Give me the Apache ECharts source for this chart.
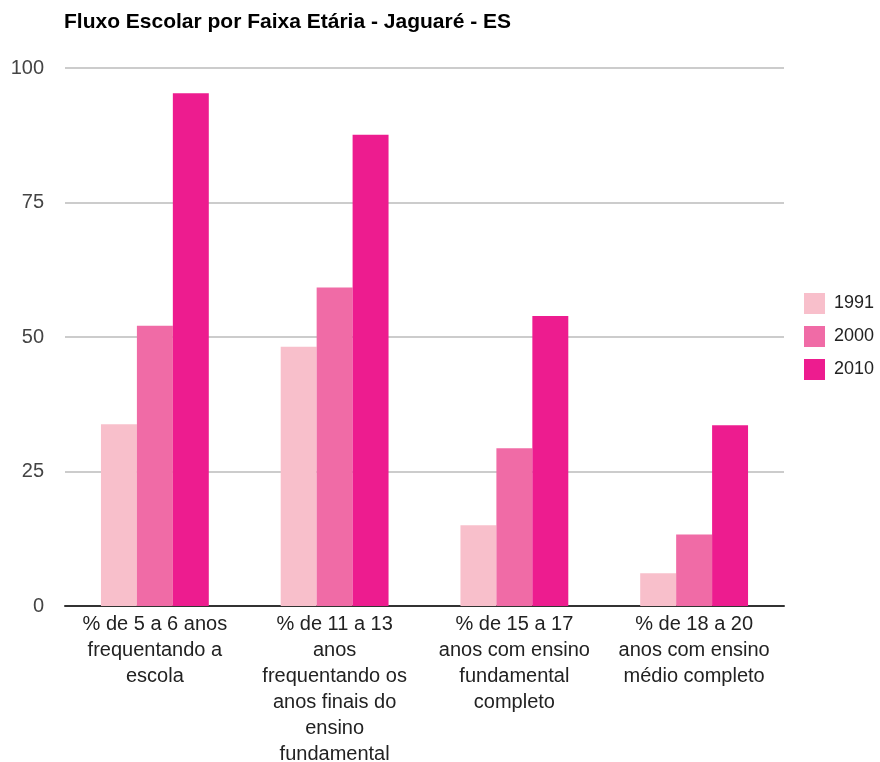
<!DOCTYPE html>
<html>
<head>
<meta charset="utf-8">
<script src="https://cdn.jsdelivr.net/npm/echarts@6/dist/echarts.min.js"></script>
<style>html,body{margin:0;padding:0;background:#fff;}#chart{width:880px;height:762px;}</style>
</head>
<body>
<div id="chart"></div>
<script>
var titleText = "Fluxo Escolar por Faixa Etária - Jaguaré - ES";
var categories = [
  "% de 5 a 6 anos\nfrequentando a\nescola",
  "% de 11 a 13\nanos\nfrequentando os\nanos finais do\nensino\nfundamental",
  "% de 15 a 17\nanos com ensino\nfundamental\ncompleto",
  "% de 18 a 20\nanos com ensino\nmédio completo"
];
var seriesNames = ["1991", "2000", "2010"];
var values1991 = [33.8, 48.2, 15.0, 6.1];
var values2000 = [52.1, 59.2, 29.3, 13.3];
var values2010 = [95.3, 87.6, 53.9, 33.6];
var yTicks = [0, 25, 50, 75, 100];
var colors = ["#f8bfcb", "#f06ba6", "#ed1c8f"];

var font = "'Liberation Sans', Arial, sans-serif";
var chart = echarts.init(document.getElementById('chart'), null, {renderer: 'canvas'});
var allValues = [values1991, values2000, values2010];
chart.setOption({
  animation: false,
  backgroundColor: '#fff',
  textStyle: {fontFamily: font},
  title: {
    text: titleText, left: 64, top: 12, padding: 0,
    textStyle: {fontFamily: font, fontSize: 21, fontWeight: 'bold', color: '#000'}
  },
  legend: {
    orient: 'vertical', left: 804, top: 293, padding: 0,
    itemWidth: 21, itemHeight: 21, itemGap: 12,
    icon: 'rect',
    data: seriesNames,
    textStyle: {fontFamily: font, fontSize: 18, color: '#222', padding: [0, 0, 0, 4]}
  },
  grid: {left: 65, right: 96, top: 68, bottom: 156, containLabel: false, outerBoundsMode: 'none'},
  xAxis: {
    type: 'category', data: categories,
    axisTick: {show: false},
    axisLine: {lineStyle: {color: '#333', width: 2}},
    axisLabel: {
      interval: 0, margin: 5, fontSize: 20, lineHeight: 26, color: '#222',
      fontFamily: font, align: 'center', verticalAlign: 'top'
    }
  },
  yAxis: {
    type: 'value', min: yTicks[0], max: yTicks[yTicks.length - 1], interval: 25,
    axisLine: {show: false}, axisTick: {show: false},
    splitLine: {lineStyle: {color: '#cccccc', width: 2}},
    axisLabel: {fontSize: 20, color: '#444', margin: 21, fontFamily: font}
  },
  series: seriesNames.map(function (name, i) {
    return {
      name: name, type: 'bar', data: allValues[i],
      barGap: '0%', barCategoryGap: '40%',
      itemStyle: {color: colors[i]}
    };
  })
});
</script>
</body>
</html>
